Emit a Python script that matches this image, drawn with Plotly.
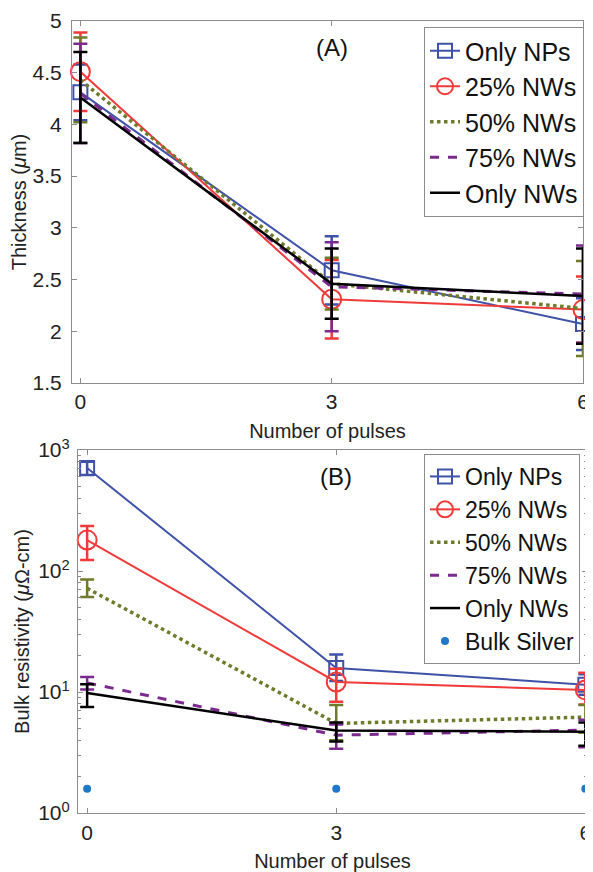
import plotly.graph_objects as go

pulses = [0, 3, 6]
names = ["Only NPs", "25% NWs", "50% NWs", "75% NWs", "Only NWs"]

# Panel A: thickness (um)
thk_np = [4.31, 2.59, 2.07]
thk_np_err = [0.27, 0.33, 0.25]
thk_25 = [4.51, 2.31, 2.21]
thk_25_err = [0.38, 0.38, 0.32]
thk_50 = [4.43, 2.46, 2.22]
thk_50_err = [0.41, 0.25, 0.46]
thk_75 = [4.30, 2.43, 2.36]
thk_75_err = [0.48, 0.43, 0.47]
thk_nw = [4.26, 2.46, 2.34]
thk_nw_err = [0.44, 0.34, 0.46]

# Panel B: bulk resistivity (uOhm-cm)
res_np = [710, 15.8, 11.5]
res_np_up = [90, 4.6, 2.5]
res_np_dn = [90, 3.5, 2.0]
res_25 = [180, 12.1, 10.4]
res_25_up = [56, 3.5, 4.0]
res_25_dn = [57, 3.8, 2.5]
res_50 = [72, 5.5, 6.2]
res_50_up = [13, 2.3, 1.6]
res_50_dn = [11, 1.5, 1.6]
res_75 = [11.9, 4.4, 4.85]
res_75_up = [1.4, 1.0, 1.05]
res_75_dn = [1.4, 1.0, 1.35]
res_nw = [9.8, 4.8, 4.7]
res_nw_up = [1.8, 0.8, 0.9]
res_nw_dn = [2.3, 0.9, 1.1]
res_bulk = [1.59, 1.59, 1.59]

thk_tick_vals = [1.5, 2, 2.5, 3, 3.5, 4, 4.5, 5]
thk_tick_text = ["1.5", "2", "2.5", "3", "3.5", "4", "4.5", "5"]
res_tick_vals = [1, 10, 100, 1000]
res_tick_text = ["10<sup>0</sup>", "10<sup>1</sup>", "10<sup>2</sup>", "10<sup>3</sup>"]

BLUE = "#3f52a8"
RED = "#f03a3a"
OLIVE = "#6f7a2b"
PURPLE = "#7b2a8e"
BLACK = "#000000"
SILVER = "#1f78c8"

styles = [
    dict(color=BLUE, width=2, dash="solid", symbol="square-open", msize=14),
    dict(color=RED, width=2, dash="solid", symbol="circle-open", msize=19),
    dict(color=OLIVE, width=3.5, dash="dot", symbol=None, msize=0),
    dict(color=PURPLE, width=3, dash="dash", symbol=None, msize=0),
    dict(color=BLACK, width=2.5, dash="solid", symbol=None, msize=0),
]

fig = go.Figure()

thk_sets = [(thk_np, thk_np_err, thk_np_err), (thk_25, thk_25_err, thk_25_err),
            (thk_50, thk_50_err, thk_50_err), (thk_75, thk_75_err, thk_75_err),
            (thk_nw, thk_nw_err, thk_nw_err)]
res_sets = [(res_np, res_np_up, res_np_dn), (res_25, res_25_up, res_25_dn),
            (res_50, res_50_up, res_50_dn), (res_75, res_75_up, res_75_dn),
            (res_nw, res_nw_up, res_nw_dn)]

for panel, sets, xa, ya, lg in [("A", thk_sets, "x", "y", "legend"),
                                ("B", res_sets, "x2", "y2", "legend2")]:
    for name, (vals, up, dn), st in zip(names, sets, styles):
        mode = "lines+markers" if st["symbol"] else "lines"
        marker = dict(symbol=st["symbol"], size=st["msize"], color=st["color"],
                      line=dict(width=2, color=st["color"])) if st["symbol"] else None
        fig.add_trace(go.Scatter(
            x=pulses, y=vals, name=name, mode=mode, xaxis=xa, yaxis=ya, legend=lg,
            line=dict(color=st["color"], width=st["width"], dash=st["dash"]),
            marker=marker,
            error_y=dict(type="data", array=up, arrayminus=dn, color=st["color"],
                         thickness=2.5, width=7),
            cliponaxis=False,
        ))

fig.add_trace(go.Scatter(
    x=pulses, y=res_bulk, name="Bulk Silver", mode="markers", xaxis="x2", yaxis="y2",
    legend="legend2", marker=dict(symbol="circle", size=8, color=SILVER),
    cliponaxis=False,
))

# page has an 8px body margin: figure is sized to fit the 593x872 window
OFF = 8
W, H = 593 - OFF, 872 - OFF


def px_x(x):
    return (x - OFF) / W


def px_y(y):
    return 1 - (y - OFF) / H


font = "Liberation Sans, Arial, sans-serif"
axis_common = dict(showline=True, linecolor="#8c8c8c", linewidth=1.2, mirror="ticks",
                   ticks="inside", ticklen=5, tickcolor="#8c8c8c", showgrid=False,
                   zeroline=False, ticklabeloverflow="allow", automargin=False,
                   tickfont=dict(size=21, color="#222", family=font))

fig.update_layout(
    width=W, height=H, margin=dict(l=0, r=0, t=0, b=0, autoexpand=False),
    paper_bgcolor="white", plot_bgcolor="white",
    font=dict(family=font, color="#222"),
    xaxis=dict(domain=[px_x(72), px_x(583)], range=[-0.1, 6.0], tickvals=pulses,
               anchor="y", ticklabelstandoff=0,
               title=dict(text="Number of pulses", font=dict(size=20), standoff=11),
               **axis_common),
    yaxis=dict(domain=[px_y(383), px_y(21)], range=[1.5, 5], tickvals=thk_tick_vals,
               ticktext=thk_tick_text, anchor="x", ticklabelstandoff=5,
               title=dict(text="Thickness (<i>μ</i>m)", font=dict(size=20), standoff=1),
               **axis_common),
    xaxis2=dict(domain=[px_x(78), px_x(587)], range=[-0.11, 6.02], tickvals=pulses,
                anchor="y2", ticklabelstandoff=1,
                title=dict(text="Number of pulses", font=dict(size=20), standoff=14),
                **axis_common),
    yaxis2=dict(domain=[px_y(813), px_y(450)], type="log", range=[0, 3],
                tickvals=res_tick_vals, ticktext=res_tick_text, anchor="x2",
                ticklabelstandoff=3,
                minor=dict(ticks="inside", ticklen=3, tickcolor="#8c8c8c", dtick="D1"),
                title=dict(text="Bulk resistivity (<i>μ</i>Ω-cm)", font=dict(size=20), standoff=3),
                **axis_common),
    legend=dict(x=px_x(584), y=px_y(27), xanchor="right", yanchor="top",
                bordercolor="#8c8c8c", borderwidth=1, bgcolor="white",
                font=dict(size=25, color="#111"), itemwidth=30, tracegroupgap=0),
    legend2=dict(x=px_x(580), y=px_y(454), xanchor="right", yanchor="top",
                 bordercolor="#8c8c8c", borderwidth=1, bgcolor="white",
                 font=dict(size=23, color="#111"), itemwidth=30, tracegroupgap=0),
    annotations=[
        dict(text="(A)", x=3, y=4.74, xref="x", yref="y", showarrow=False,
             font=dict(size=24, color="#111")),
        dict(text="(B)", x=3, y=2.78, xref="x2", yref="y2", showarrow=False,
             font=dict(size=24, color="#111")),
    ],
)

fig.write_html("out.html")
